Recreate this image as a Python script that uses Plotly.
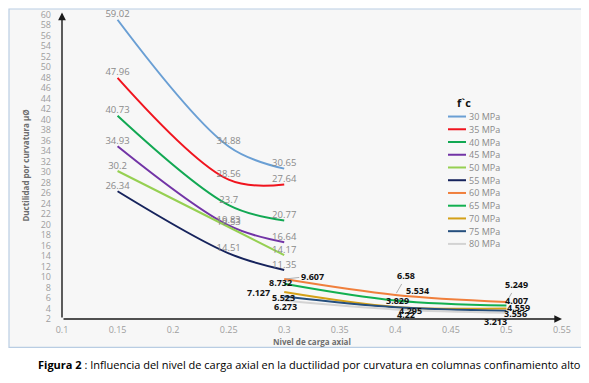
import plotly.graph_objects as go

# ---------------- data ----------------
x_group1 = [0.15, 0.25, 0.3]
x_group2 = [0.3, 0.4, 0.5]

names_group1 = ["30 MPa", "35 MPa", "40 MPa", "45 MPa", "50 MPa", "55 MPa"]
mpa30 = [59.02, 34.88, 30.65]
mpa35 = [47.96, 28.56, 27.64]
mpa40 = [40.73, 23.7, 20.77]
mpa45 = [34.93, 19.83, 16.64]
mpa50 = [30.2, 19.53, 14.17]
mpa55 = [26.34, 14.51, 11.35]

names_group2 = ["60 MPa", "65 MPa", "70 MPa", "75 MPa", "80 MPa"]
mpa60 = [9.607, 6.58, 5.249]
mpa65 = [8.732, 5.534, 4.559]
mpa70 = [7.127, 4.295, 4.007]
mpa75 = [6.273, 4.22, 3.556]
mpa80 = [5.523, 3.829, 3.213]

y_ticks = list(range(2, 61, 2))
x_ticks = [0.1, 0.15, 0.2, 0.25, 0.3, 0.35, 0.4, 0.45, 0.5, 0.55]

# ---------------- styles ----------------
colors1 = ["#6a9fd4", "#f0141e", "#12a853", "#7234a6", "#96d052", "#16235c"]
colors2 = ["#f07f3c", "#12b050", "#d4a017", "#254f7e", "#d3d3d3"]

# label offsets for group 2 (pixels: dx right, dy down, leader line flag)
offsets2 = [
    [(28, -3, True), (11, -19, True), (10, -17, True)],
    [(-4, -1, False), (22, -10, False), (12, 2, False)],
    [(-26, 0, False), (15, 4, False), (10, -8, True)],
    [(1, 10, False), (11, 7, False), (9, 3, False)],
    [(-1, -3, False), (2, -9, False), (-11, 9, False)],
]

FONT = "Open Sans, Noto Sans, sans-serif"
BODY = 8  # browser body margin shifts the figure
W, H = 589, 383
VL, VT, VB = 62, 12, 319.5          # plot area in window pixels
PW, PH = 500, 307.5
L, T = VL - BODY, VT - BODY
R = W - L - PW
B = H - T - PH


def px2paper_x(px):
    return (px - VL) / PW


def py2paper_y(py):
    return (VB - py) / PH


fig = go.Figure()

series1 = [mpa30, mpa35, mpa40, mpa45, mpa50, mpa55]
series2 = [mpa60, mpa65, mpa70, mpa75, mpa80]

for name, ys, c in zip(names_group1, series1, colors1):
    fig.add_trace(go.Scatter(
        x=x_group1, y=ys, name=name, mode="lines+text",
        line=dict(color=c, width=2, shape="spline", smoothing=1),
        text=[f"{v:g}" for v in ys], textposition="top center",
        textfont=dict(family=FONT, size=9.5, color="#8a8a8a"),
        showlegend=False, hoverinfo="x+y+name", cliponaxis=False))

annotations = []
for name, ys, c, offs in zip(names_group2, series2, colors2, offsets2):
    fig.add_trace(go.Scatter(
        x=x_group2, y=ys, name=name, mode="lines",
        line=dict(color=c, width=2, shape="spline", smoothing=1),
        showlegend=False, hoverinfo="x+y+name"))
    for xv, yv, (dx, dy, lead) in zip(x_group2, ys, offs):
        if lead:
            annotations.append(dict(
                x=xv, y=yv, xref="x", yref="y", text=f"<b>{yv:g}</b>",
                showarrow=True, ax=dx, ay=dy, arrowhead=0, arrowwidth=0.8,
                arrowcolor="#9a9a9a", standoff=2,
                font=dict(family=FONT, size=9, color="#111111")))
        else:
            annotations.append(dict(
                x=xv, y=yv, xref="x", yref="y", text=f"<b>{yv:g}</b>",
                showarrow=False, xshift=dx, yshift=-dy,
                font=dict(family=FONT, size=9, color="#111111")))

# axis arrows
annotations.append(dict(x=0.55, y=2, ax=0.1, ay=2, xref="x", yref="y",
                        axref="x", ayref="y", text="", showarrow=True,
                        arrowhead=2, arrowsize=1.1, arrowwidth=1.4,
                        arrowcolor="#1a1a1a"))
annotations.append(dict(x=0.1, y=60.4, ax=0.1, ay=2, xref="x", yref="y",
                        axref="x", ayref="y", text="", showarrow=True,
                        arrowhead=2, arrowsize=1.1, arrowwidth=1.4,
                        arrowcolor="#1a1a1a"))

# frame + custom legend
all_names = names_group1 + names_group2
all_colors = colors1 + colors2
shapes = []
shapes.append(dict(type="rect", xref="paper", yref="paper",
                   x0=px2paper_x(9), x1=px2paper_x(583),
                   y0=py2paper_y(348), y1=py2paper_y(9),
                   fillcolor="#f7f7f7", line=dict(color="#b9cde3", width=1.2),
                   layer="below"))
annotations.append(dict(x=px2paper_x(473), y=py2paper_y(93), xref="paper",
                        yref="paper", text="<b>f`c</b>", showarrow=False,
                        font=dict(family=FONT, size=11, color="#111111")))
for i, (nm, c) in enumerate(zip(all_names, all_colors)):
    py = 116.7 + i * 12.76
    shapes.append(dict(type="line", xref="paper", yref="paper",
                       x0=px2paper_x(448), x1=px2paper_x(466),
                       y0=py2paper_y(py), y1=py2paper_y(py),
                       line=dict(color=c, width=2)))
    annotations.append(dict(x=px2paper_x(467), y=py2paper_y(py),
                            xref="paper", yref="paper", text=nm,
                            showarrow=False, xanchor="left", yanchor="middle",
                            font=dict(family=FONT, size=9, color="#8a8a8a")))

# caption
annotations.append(dict(
    x=px2paper_x(309), y=py2paper_y(365), xref="paper", yref="paper",
    text="<b>Figura 2</b> : Influencia del nivel de carga axial en la ductilidad por curvatura en columnas confinamiento alto",
    showarrow=False, xanchor="center", yanchor="middle",
    font=dict(family="Open Sans, sans-serif", size=11, color="#000000")))

fig.update_layout(
    width=W, height=H,
    margin=dict(l=L, r=R, t=T, b=B, pad=0),
    paper_bgcolor="white", plot_bgcolor="rgba(0,0,0,0)",
    shapes=shapes, annotations=annotations, showlegend=False,
    font=dict(family=FONT),
)
fig.update_xaxes(
    range=[0.1, 0.55], tickvals=x_ticks, ticktext=[f"{v:g}" for v in x_ticks],
    showgrid=False, zeroline=False, showline=False, ticks="",
    ticklabelstandoff=4, automargin=False, ticklabeloverflow="allow",
    tickfont=dict(family=FONT, size=9, color="#9e9e9e"),
    title=dict(text="<b>Nivel de carga axial</b>", standoff=2,
               font=dict(family=FONT, size=8, color="#6e6e6e")),
)
fig.update_yaxes(
    range=[2, 60.5], tickvals=y_ticks, showgrid=False, zeroline=False,
    showline=False, ticks="", ticklabelstandoff=10, automargin=False,
    ticklabeloverflow="allow",
    tickfont=dict(family=FONT, size=9, color="#9e9e9e"),
    title=dict(text="<b>Ductilidad por curvatura µØ</b>", standoff=9,
               font=dict(family=FONT, size=8, color="#6e6e6e")),
)

fig.write_html("out.html")
